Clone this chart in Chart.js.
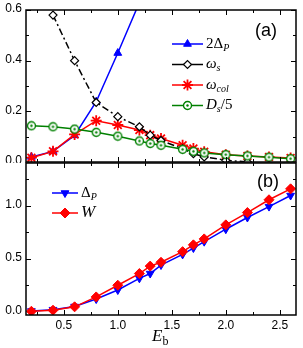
<!DOCTYPE html>
<html>
<head>
<meta charset="utf-8">
<script src="https://cdn.jsdelivr.net/npm/chart.js@4.4.1/dist/chart.umd.min.js"></script>
<style>
  html, body { margin: 0; padding: 0; background: #fff; }
  #wrap { position: relative; width: 303px; height: 348px; }
  #top { position: absolute; left: 0; top: 0; }
  #bot { position: absolute; left: 0; top: 162px; }
</style>
</head>
<body>
<div id="wrap">
  <canvas id="top" width="303" height="163"></canvas>
  <canvas id="bot" width="303" height="186"></canvas>
</div>
<script>
// E_b values shared by both panels
const eb = [0.2, 0.4, 0.6, 0.8, 1.0, 1.2, 1.3, 1.4, 1.6, 1.7, 1.8, 2.0, 2.2, 2.4, 2.6];

// panel (a)
const twoDeltaP = [0.02, 0.042, 0.105, 0.238, 0.43, 0.63, 0.72, 0.88, 1.08, 1.2, 1.32, 1.56, 1.78, 1.98, 2.2];
const omegaS    = [null, 0.58, 0.40, 0.235, 0.179, 0.139, 0.106, 0.085, 0.052, 0.033, 0.02, 0.007, 0.0, null, null];
const omegaCol  = [0.017, 0.042, 0.109, 0.163, 0.146, 0.126, 0.106, 0.093, 0.066, 0.053, 0.04, 0.029, 0.024, 0.02, 0.016];
const dsOver5   = [0.143, 0.139, 0.13, 0.117, 0.102, 0.083, 0.073, 0.066, 0.05, 0.042, 0.036, 0.029, 0.024, 0.019, 0.013];

// panel (b)
const deltaP = [0.008, 0.02, 0.05, 0.12, 0.205, 0.315, 0.36, 0.44, 0.54, 0.60, 0.66, 0.777, 0.887, 0.99, 1.094];
const wVals  = [0.005, 0.015, 0.047, 0.14, 0.25, 0.36, 0.43, 0.466, 0.566, 0.63, 0.686, 0.818, 0.934, 1.054, 1.157];

const xTicks = [0.5, 1.0, 1.5, 2.0, 2.5];
const yTicksA = [0.0, 0.2, 0.4, 0.6];
const yTicksB = [0.0, 0.5, 1.0];

const BLUE = '#0000ff', RED = '#ff0000', GREEN = '#008000', BLACK = '#000000';
const numFont = '12px "Liberation Sans", Arial, sans-serif';

// green open circle with a center dot
function ringDot() {
  const c = document.createElement('canvas');
  c.width = 11; c.height = 11;
  const g = c.getContext('2d');
  g.fillStyle = '#fff';
  g.strokeStyle = GREEN;
  g.lineWidth = 1.4;
  g.beginPath(); g.arc(5.5, 5.5, 4, 0, Math.PI * 2); g.fill(); g.stroke();
  g.fillStyle = GREEN;
  g.beginPath(); g.arc(5.5, 5.5, 1.2, 0, Math.PI * 2); g.fill();
  return c;
}
const ring = ringDot();

function pts(ys) {
  return eb.map((x, i) => ({ x: x, y: ys[i] }));
}

// frame with inward ticks, tick labels, panel tag, legend and axis title
const framePlugin = {
  id: 'frame',
  afterDraw(chart, args, opts) {
    const ctx = chart.ctx;
    const a = chart.chartArea;
    const xs = chart.scales.x, ys = chart.scales.y;
    ctx.save();
    ctx.strokeStyle = BLACK;
    ctx.lineWidth = 1.5;
    ctx.strokeRect(a.left, a.top, a.right - a.left, a.bottom - a.top);
    ctx.lineWidth = 1;
    ctx.beginPath();
    for (let v = 0.25; v <= 2.65; v += 0.25) {
      const px = Math.round(xs.getPixelForValue(v)) + 0.5;
      const len = Math.abs(v / 0.5 - Math.round(v / 0.5)) < 1e-6 ? 5 : 3;
      ctx.moveTo(px, a.bottom); ctx.lineTo(px, a.bottom - len);
      ctx.moveTo(px, a.top); ctx.lineTo(px, a.top + len);
    }
    for (let v = opts.yMinor; v <= ys.max + 1e-6; v += opts.yMinor) {
      const py = Math.round(ys.getPixelForValue(v)) + 0.5;
      const len = Math.abs(v / opts.yMajor - Math.round(v / opts.yMajor)) < 1e-6 ? 5 : 3;
      ctx.moveTo(a.left, py); ctx.lineTo(a.left + len, py);
      ctx.moveTo(a.right, py); ctx.lineTo(a.right - len, py);
    }
    ctx.stroke();

    // tick labels
    ctx.fillStyle = BLACK;
    ctx.font = numFont;
    ctx.textBaseline = 'middle';
    ctx.textAlign = 'right';
    opts.yTicks.forEach(v => {
      const py = ys.getPixelForValue(v);
      ctx.fillText(v.toFixed(1), a.left - 4, Math.max(py - 1, 8));
    });
    if (opts.title) {
      ctx.textAlign = 'center';
      xTicks.forEach(v => ctx.fillText(v.toFixed(1), xs.getPixelForValue(v), a.bottom + 11));
    }
    ctx.textAlign = 'left';

    ctx.font = '18px "Liberation Sans", Arial, sans-serif';
    ctx.fillText(opts.tag, opts.tagX, opts.tagY);

    // legend (sample lines drawn solid, as in the original)
    opts.legend.forEach((item, i) => {
      const y = opts.legY + i * opts.legStep;
      const ds = chart.data.datasets[item.ds];
      ctx.save();
      ctx.strokeStyle = ds.borderColor;
      ctx.lineWidth = ds.borderWidth;
      ctx.beginPath();
      ctx.moveTo(opts.legX0, y); ctx.lineTo(opts.legX1, y);
      ctx.stroke();
      ctx.fillStyle = ds.pointBackgroundColor;
      ctx.strokeStyle = ds.pointBorderColor;
      ctx.lineWidth = ds.pointBorderWidth;
      Chart.helpers.drawPoint(ctx, {
        pointStyle: ds.pointStyle, radius: ds.pointRadius,
        rotation: ds.pointRotation || 0, borderWidth: ds.pointBorderWidth
      }, (opts.legX0 + opts.legX1) / 2, y);
      ctx.restore();
      let tx = opts.legX1 + 3;
      item.parts.forEach(p => {
        ctx.font = p.f;
        ctx.fillText(p.t, tx, y + (p.dy || 0));
        tx += ctx.measureText(p.t).width;
      });
    });

    if (opts.title) {
      ctx.font = 'italic 17px "Liberation Serif", "Times New Roman", serif';
      ctx.fillText('E', 152, 175);
      const w = ctx.measureText('E').width;
      ctx.font = '12px "Liberation Serif", "Times New Roman", serif';
      ctx.fillText('b', 152 + w, 180);
    }
    ctx.restore();
  }
};

const serifI = 'italic 15px "Liberation Serif", "Times New Roman", serif';
const serifR = '15px "Liberation Serif", "Times New Roman", serif';
const subI = 'italic 10px "Liberation Serif", "Times New Roman", serif';

const xScale = { type: 'linear', min: 0.15, max: 2.65, display: false };
function yScale(min, max) {
  return { type: 'linear', min: min, max: max, display: false };
}

new Chart(document.getElementById('top'), {
  type: 'line',
  data: {
    datasets: [
      { label: '2Δp', data: pts(twoDeltaP), borderColor: BLUE, borderWidth: 1.5,
        pointStyle: 'triangle', pointRadius: 4.5, pointBackgroundColor: BLUE, pointBorderColor: BLUE,
        pointBorderWidth: 1, order: 3 },
      { label: 'ωs', data: pts(omegaS), borderColor: BLACK, borderWidth: 1.5, borderDash: [7, 3, 2, 3],
        pointStyle: 'rectRot', pointRadius: 4, pointBackgroundColor: '#fff', pointBorderColor: BLACK,
        pointBorderWidth: 1.2, order: 1 },
      { label: 'ωcol', data: pts(omegaCol), borderColor: RED, borderWidth: 1.5,
        pointStyle: 'star', pointRadius: 5.5, pointBackgroundColor: RED, pointBorderColor: RED,
        pointBorderWidth: 1.8, order: 2 },
      { label: 'Ds/5', data: pts(dsOver5), borderColor: GREEN, borderWidth: 1.5,
        pointStyle: ring, pointRadius: 5, pointBackgroundColor: '#fff', pointBorderColor: GREEN,
        pointBorderWidth: 1.4, order: 0 }
    ]
  },
  options: {
    responsive: false, animation: false, spanGaps: false,
    layout: { autoPadding: false, padding: { top: 10, right: 7, bottom: 1, left: 26 } },
    scales: { x: xScale, y: yScale(0, 0.6) },
    plugins: {
      legend: { display: false }, tooltip: { enabled: false },
      frame: {
        yTicks: yTicksA, yMinor: 0.1, yMajor: 0.2, tag: '(a)', tagX: 255, tagY: 31,
        legX0: 172, legX1: 203, legY: 44, legStep: 20.5,
        legend: [
          { ds: 0, parts: [{ t: '2Δ', f: serifR }, { t: 'P', f: subI, dy: 4 }] },
          { ds: 1, parts: [{ t: 'ω', f: serifI }, { t: 's', f: subI, dy: 4 }] },
          { ds: 2, parts: [{ t: 'ω', f: serifI }, { t: 'col', f: subI, dy: 4 }] },
          { ds: 3, parts: [{ t: 'D', f: serifI }, { t: 's', f: subI, dy: 4 }, { t: '/5', f: serifR }] }
        ]
      }
    }
  },
  plugins: [framePlugin]
});

new Chart(document.getElementById('bot'), {
  type: 'line',
  data: {
    datasets: [
      { label: 'Δp', data: pts(deltaP), borderColor: BLUE, borderWidth: 1.5,
        pointStyle: 'triangle', pointRotation: 180, pointRadius: 4.5, pointBackgroundColor: BLUE,
        pointBorderColor: BLUE, pointBorderWidth: 1, order: 1 },
      { label: 'W', data: pts(wVals), borderColor: RED, borderWidth: 1.5,
        pointStyle: 'rectRot', pointRadius: 5, pointBackgroundColor: RED, pointBorderColor: RED,
        pointBorderWidth: 1, order: 0 }
    ]
  },
  options: {
    responsive: false, animation: false,
    layout: { autoPadding: false, padding: { top: 1, right: 7, bottom: 33, left: 26 } },
    scales: { x: xScale, y: yScale(-0.03, 1.4) },
    plugins: {
      legend: { display: false }, tooltip: { enabled: false },
      frame: {
        yTicks: yTicksB, yMinor: 0.25, yMajor: 0.5, tag: '(b)', tagX: 257, tagY: 20,
        legX0: 52, legX1: 78, legY: 31, legStep: 20,
        title: true,
        legend: [
          { ds: 0, parts: [{ t: 'Δ', f: serifR }, { t: 'P', f: subI, dy: 4 }] },
          { ds: 1, parts: [{ t: 'W', f: 'italic 17px "Liberation Serif", "Times New Roman", serif' }] }
        ]
      }
    }
  },
  plugins: [framePlugin]
});
</script>
</body>
</html>
